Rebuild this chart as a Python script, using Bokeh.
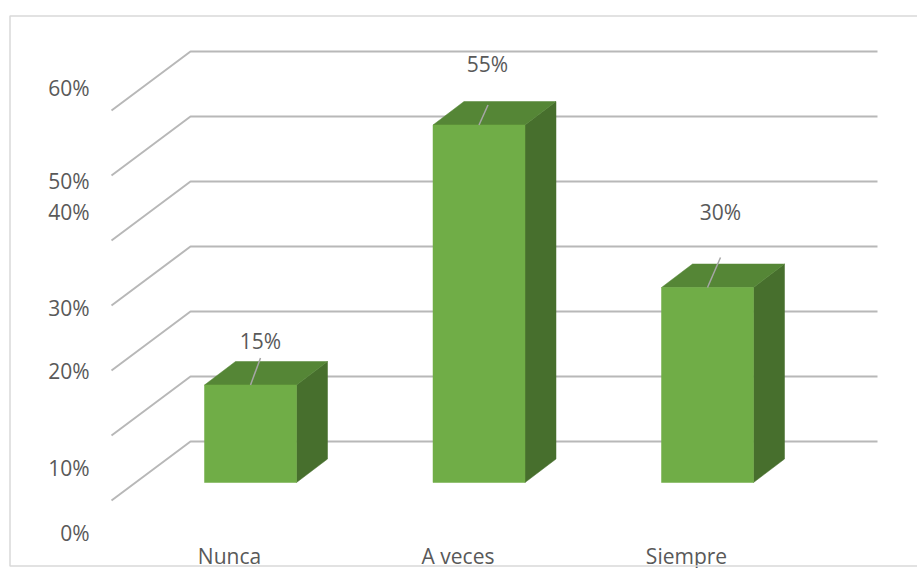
import numpy as np
from bokeh.plotting import figure
from bokeh.models import ColumnDataSource, Range1d
from bokeh.core.properties import value
from bokeh.embed import file_html
from bokeh.resources import INLINE

# ---------------- data ----------------
categories = ["Nunca", "A veces", "Siempre"]
percentages = [15, 55, 30]
value_labels = ["15%", "55%", "30%"]
grid_levels = [0, 10, 20, 30, 40, 50, 60]
tick_labels = ["0%", "10%", "20%", "30%", "40%", "50%", "60%"]

# ---------------- style / geometry (pixels) ----------------
W, H = 917, 568
PX_X = 228.5          # px per category step
PX_Y = 6.5            # px per percentage point
X0_PX, Y0_PX = 250, 482   # first category centre / floor, from top-left

BAR_W = 92 / PX_X
DEPTH_DX = 31 / PX_X
DEPTH_DY = 23.5 / PX_Y

GRID_FRONT_X = -139 / PX_X
GRID_BACK_X = -60 / PX_X
GRID_END_X = 627 / PX_X
GRID_FRONT_DY = -18 / PX_Y
GRID_BACK_DY = 41 / PX_Y

TICK_X = -161 / PX_X
TICK_NUDGE = [32.5, 32.5, 0.5, 2.5, -28.5, 5.5, -23]   # px, screen down
CAT_DX = -21 / PX_X
CAT_Y = -73 / PX_Y
LABEL_DX = [10, 8.5, 13]       # px
LABEL_DY = [-44.5, -61.5, -76]  # px
LEADER_DX = [10, 9, 13]        # px
LEADER_DY = [27, 20, 30]       # px

FONT = value("Open Sans")
TXT = "#595959"
FRONT = "#70AD47"
TOP = "#558636"
SIDE = "#476F2D"
GRID = "#b8b8b8"
BORDER = "#d9d9d9"

x_start = -X0_PX / PX_X
x_end = (W - X0_PX) / PX_X
y_end = Y0_PX / PX_Y
y_start = (Y0_PX - H) / PX_Y

p = figure(width=W, height=H, output_backend="svg", toolbar_location=None,
           x_range=Range1d(x_start, x_end), y_range=Range1d(y_start, y_end),
           x_axis_type=None, y_axis_type=None,
           min_border_left=0, min_border_right=0, min_border_top=0, min_border_bottom=0)
p.outline_line_color = None
p.background_fill_color = "white"
p.border_fill_color = "white"

# gridlines (3D floor/wall style)
gx, gy = [], []
for lv in grid_levels:
    gx.append([GRID_FRONT_X, GRID_BACK_X, GRID_END_X])
    gy.append([lv + GRID_FRONT_DY, lv + GRID_BACK_DY, lv + GRID_BACK_DY])
p.multi_line(gx, gy, line_color=GRID, line_width=2)

# tick labels
p.text(x=[TICK_X] * len(tick_labels), y=[lv + GRID_FRONT_DY for lv in grid_levels],
       text=tick_labels, y_offset=TICK_NUDGE, text_align="right", text_baseline="middle",
       text_font=FONT, text_font_size="21px", text_color=TXT)

# bars
idx = np.arange(len(categories), dtype=float)
vals = np.array(percentages, dtype=float)
left = idx - BAR_W / 2
right = idx + BAR_W / 2

side_xs = [[r, r + DEPTH_DX, r + DEPTH_DX, r] for r in right]
side_ys = [[0, DEPTH_DY, v + DEPTH_DY, v] for v in vals]
p.patches(side_xs, side_ys, fill_color=SIDE, line_color=SIDE, line_width=0.5)

top_xs = [[l, r, r + DEPTH_DX, l + DEPTH_DX] for l, r in zip(left, right)]
top_ys = [[v, v, v + DEPTH_DY, v + DEPTH_DY] for v in vals]
p.patches(top_xs, top_ys, fill_color=TOP, line_color=TOP, line_width=0.5)

p.vbar(x=idx, width=BAR_W, bottom=0, top=vals, fill_color=FRONT, line_color=FRONT, line_width=0.5)

# leader lines
p.segment(x0=idx, y0=vals,
          x1=idx + np.array(LEADER_DX) / PX_X, y1=vals + np.array(LEADER_DY) / PX_Y,
          line_color="#a6a6a6", line_width=1.5)

# value labels
src = ColumnDataSource(dict(x=idx, y=vals, t=value_labels, dx=LABEL_DX, dy=LABEL_DY))
p.text(x="x", y="y", text="t", x_offset="dx", y_offset="dy", source=src,
       text_align="center", text_baseline="middle",
       text_font=FONT, text_font_size="21px", text_color=TXT)

# category labels
p.text(x=idx + CAT_DX, y=[CAT_Y] * len(categories), text=categories,
       text_align="center", text_baseline="middle",
       text_font=FONT, text_font_size="21px", text_color=TXT)

# chart border (top, left, bottom; right edge lies outside the window)
bl = (9.5 - X0_PX) / PX_X
bt = (Y0_PX - 15.5) / PX_Y
bb = (Y0_PX - 565.5) / PX_Y
p.line(x=[x_end, bl, bl, x_end], y=[bt, bt, bb, bb], line_color=BORDER, line_width=1.5)

open("out.html", "w").write(file_html(p, INLINE))
